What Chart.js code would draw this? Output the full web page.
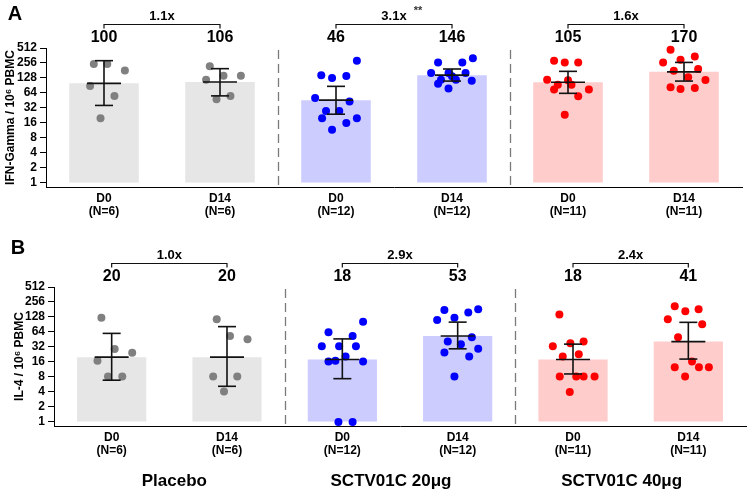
<!DOCTYPE html>
<html><head><meta charset="utf-8">
<script src="https://cdn.jsdelivr.net/npm/chart.js@4.4.0/dist/chart.umd.min.js"></script>
<style>
html,body{margin:0;padding:0;background:#fff;}
#wrap{position:relative;width:750px;height:490px;overflow:hidden;}
canvas{position:absolute;left:0;}
#ca{top:0;}
#cb{top:230px;}
</style></head><body>
<div id="wrap">
<canvas id="ca" width="750" height="230"></canvas>
<canvas id="cb" width="750" height="260"></canvas>
</div>
<script>
// ---------- data ----------
const categories = [['D0','(N=6)'],['D14','(N=6)'],['D0','(N=12)'],['D14','(N=12)'],['D0','(N=11)'],['D14','(N=11)']];
const groups = ['Placebo','SCTV01C 20μg','SCTV01C 40μg'];
const yTicks = [1,2,4,8,16,32,64,128,256,512];

const ifnMeans = [100,106,46,146,105,170];
const ifnLower = [36,56,24,111,63,111];
const ifnUpper = [285,197,87,194,174,263];
const ifnFold = ['1.1x','3.1x','1.6x'];
const ifnSig = ['','**',''];
const ifnPoints = [
  [244,244,182,88,56,20],
  [219,118,142,142,48,56],
  [285,145,128,140,51,28,28,43,20,20,16,11.7],
  [317,263,263,161,161,161,118,118,98,113,79,138],
  [285,263,263,118,94,94,75,75,55,23.5,115],
  [474,263,298,347,179,194,132,117,83,77,81]
];
const ifnJitter = [
  [-0.088,0.028,0.18,-0.12,0.09,-0.03],
  [-0.088,-0.12,0.03,0.18,-0.03,0.09],
  [0.18,-0.127,-0.034,0.089,-0.18,-0.086,0.028,0.117,-0.12,0.18,0.089,-0.034],
  [0.18,-0.12,0.089,-0.18,-0.03,0.117,-0.095,0.034,-0.12,0.17,-0.03,0.0],
  [-0.12,-0.028,0.088,-0.18,-0.088,0.03,-0.12,0.18,0.088,-0.028,0.0],
  [-0.116,-0.18,-0.03,0.093,-0.088,0.122,0.036,0.185,-0.116,-0.03,0.093]
];

const il4Means = [20,20,18,53,18,41];
const il4Lower = [6.9,5.2,7.4,29.4,9.2,18.3];
const il4Upper = [60,82,46.5,101,36.5,100];
const il4Fold = ['1.0x','2.9x','2.4x'];
const il4Sig = ['','',''];
const il4Points = [
  [123,29,24.5,17,8.2,8.2],
  [115,53,46,8.2,8.2,4.1],
  [103,63,53,33,33,33,20.6,16.4,16.4,1,1,17],
  [176,158,184,111,123,50,41,36.5,24.8,29.4,20.6,8.2],
  [144,41,33,38,20.6,8.2,8.2,8.2,8.2,4,23],
  [211,166,184,115,91,50,16.4,12.5,12.5,12.5,8.2]
];
const il4Jitter = [
  [-0.089,0.026,0.178,-0.123,-0.032,0.092],
  [-0.089,0.026,0.178,-0.12,0.089,-0.026],
  [0.18,-0.12,0.089,-0.178,-0.028,0.118,0.028,-0.12,0.18,-0.034,0.089,-0.06],
  [-0.115,0.092,0.178,-0.178,-0.028,0.123,-0.086,0.028,-0.115,0.178,0.1,-0.028],
  [-0.118,0.092,-0.175,-0.023,-0.089,-0.115,0.028,0.092,0.187,-0.028,0.05],
  [-0.118,-0.026,0.089,-0.178,0.12,-0.089,0.032,-0.118,0.092,0.178,-0.028]
];

// ---------- styles ----------
const FONT = '"Liberation Sans", Arial, Helvetica, sans-serif';
Chart.defaults.font.family = FONT;
Chart.defaults.color = '#000';
const barColors = ['#e6e6e6','#e6e6e6','#ccccff','#ccccff','#ffcccc','#ffcccc'];
const pointColors = ['#808080','#808080','#0000ff','#0000ff','#ff0000','#ff0000'];

const annotPlugin = {
  id: 'annot',
  beforeDatasetsDraw(chart, args, o) {
    const ctx = chart.ctx, xs = chart.scales.x, ca = chart.chartArea;
    ctx.save();
    ctx.strokeStyle = '#7a7a7a';
    ctx.lineWidth = 1.3;
    ctx.setLineDash([9, 5]);
    o.separators.forEach(i => {
      const px = Math.round((xs.getPixelForValue(i - 1) + xs.getPixelForValue(i)) / 2) + 0.5;
      ctx.beginPath(); ctx.moveTo(px, ca.top + 2); ctx.lineTo(px, ca.bottom - 2); ctx.stroke();
    });
    ctx.restore();
  },
  afterDatasetsDraw(chart, args, o) {
    const ctx = chart.ctx, xs = chart.scales.x, ys = chart.scales.y, ca = chart.chartArea;
    const line = (x1, y1, x2, y2) => { ctx.beginPath(); ctx.moveTo(x1, y1); ctx.lineTo(x2, y2); ctx.stroke(); };
    ctx.save();
    ctx.strokeStyle = '#111';
    ctx.lineWidth = 1.6;
    o.means.forEach((m, i) => {
      const px = xs.getPixelForValue(i);
      const pm = ys.getPixelForValue(m), pl = ys.getPixelForValue(o.lower[i]), pu = ys.getPixelForValue(o.upper[i]);
      line(px, pu, px, pl);
      line(px - 17, pm, px + 17, pm);
      line(px - 9, pu, px + 9, pu);
      line(px - 9, pl, px + 9, pl);
    });
    ctx.fillStyle = '#000';
    ctx.textAlign = 'center';
    ctx.textBaseline = 'middle';
    ctx.font = 'bold 16px ' + FONT;
    o.means.forEach((m, i) => ctx.fillText(String(m), xs.getPixelForValue(i), ca.top - 10));
    ctx.lineWidth = 1.2;
    o.fold.forEach((f, g) => {
      const x1 = xs.getPixelForValue(2 * g), x2 = xs.getPixelForValue(2 * g + 1);
      const by = Math.round(ca.top - 24) + 0.5;
      ctx.beginPath(); ctx.moveTo(x1, by + 4); ctx.lineTo(x1, by); ctx.lineTo(x2, by); ctx.lineTo(x2, by + 4); ctx.stroke();
      ctx.font = 'bold 13px ' + FONT;
      const cx = (x1 + x2) / 2;
      ctx.fillText(f, cx, ca.top - 32);
      if (o.sig[g]) {
        ctx.font = 'bold 11px ' + FONT;
        ctx.fillStyle = '#333';
        ctx.fillText(o.sig[g], cx + 24, ca.top - 37);
        ctx.fillStyle = '#000';
      }
    });
    ctx.font = 'bold 20px ' + FONT;
    ctx.fillText(o.letter, o.letterX, o.letterY);
    if (o.groupLabels) {
      ctx.font = 'bold 17px ' + FONT;
      o.groupLabels.forEach((t, g) => {
        const cx = (xs.getPixelForValue(2 * g) + xs.getPixelForValue(2 * g + 1)) / 2 + o.groupShift[g];
        ctx.fillText(t, cx, chart.height - 9);
      });
    }
    ctx.restore();
  }
};

function buildChart(el, o) {
  const pts = [];
  o.points.forEach((arr, i) => arr.forEach((v, j) => pts.push({x: i + o.jitter[i][j], y: v, g: i})));
  return new Chart(el, {
    data: {
      labels: categories,
      datasets: [
        {type: 'scatter', data: pts, xAxisID: 'xj', yAxisID: 'y', order: 0, clip: false,
         pointRadius: 4, pointHoverRadius: 4, pointBorderWidth: 0,
         pointBackgroundColor: c => pointColors[c.raw ? c.raw.g : 0]},
        {type: 'bar', data: o.means, xAxisID: 'x', yAxisID: 'y', order: 1, base: 1, grouped: false,
         backgroundColor: barColors, barPercentage: 0.6, categoryPercentage: 1, borderWidth: 0}
      ]
    },
    options: {
      responsive: false, animation: false, events: [], devicePixelRatio: 1,
      layout: {padding: {top: o.padTop, right: o.padRight, bottom: o.padBottom, left: 0}},
      plugins: {
        legend: {display: false}, tooltip: {enabled: false},
        annot: {means: o.means, lower: o.lower, upper: o.upper, fold: o.fold, sig: o.sig,
                separators: [2, 4], letter: o.letter, letterX: o.letterX, letterY: o.letterY,
                groupLabels: o.groupLabels, groupShift: o.groupShift || [0, 0, 0]}
      },
      scales: {
        x: {type: 'category', position: 'bottom', offset: true,
            grid: {display: false, drawTicks: false, tickLength: 0}, border: {display: true, color: '#000', width: 1},
            ticks: {font: {weight: 'bold', size: 12, lineHeight: 1.1}, color: '#000', padding: 5, maxRotation: 0, autoSkip: false},
            afterFit: s => { s.height = 40; }},
        xj: {type: 'linear', axis: 'x', position: 'bottom', min: -0.5, max: 5.5, display: false},
        y: {type: 'logarithmic', min: 0.83, max: 512, bounds: 'data',
            border: {display: true, color: '#000', width: 1},
            grid: {display: true, drawOnChartArea: false, drawTicks: true, tickLength: 6, color: '#000', lineWidth: 1},
            ticks: {font: {weight: 'bold', size: o.tickSize}, color: '#000', padding: 3, autoSkip: false,
                    callback: v => String(v)},
            afterBuildTicks: s => { s.ticks = yTicks.map(v => ({value: v})); },
            afterFit: s => { s.width = o.axisWidth; },
            title: {display: true, text: o.yTitle, color: '#000', font: {weight: 'bold', size: 12}, padding: {top: o.titlePad, bottom: 0}}}
      }
    },
    plugins: [annotPlugin]
  });
}

buildChart(document.getElementById('ca'), {
  means: ifnMeans, lower: ifnLower, upper: ifnUpper, fold: ifnFold, sig: ifnSig,
  points: ifnPoints, jitter: ifnJitter, yTitle: 'IFN-Gamma / 10⁶ PBMC',
  padTop: 48, padRight: 8, padBottom: 3, axisWidth: 46, tickSize: 12, titlePad: 3,
  letter: 'A', letterX: 15, letterY: 14
});
buildChart(document.getElementById('cb'), {
  means: il4Means, lower: il4Lower, upper: il4Upper, fold: il4Fold, sig: il4Sig,
  points: il4Points, jitter: il4Jitter, yTitle: 'IL-4 / 10⁶ PBMC',
  padTop: 57, padRight: 0, padBottom: 24, axisWidth: 54, tickSize: 12, titlePad: 12,
  letter: 'B', letterX: 18, letterY: 18, groupLabels: groups, groupShift: [5, -9, -9]
});
</script>
</body></html>
